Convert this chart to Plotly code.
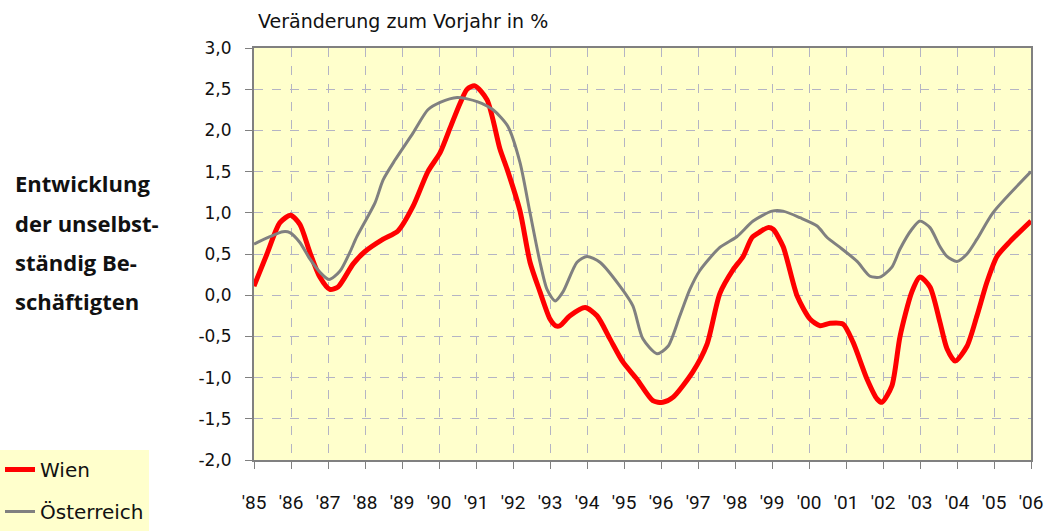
import plotly.graph_objects as go

# Wien (red) - year position, change vs previous year in %
wien_x = [1985.00, 1985.35, 1985.70, 1985.99, 1986.24, 1986.51, 1986.78, 1987.05, 1987.27,
          1987.68, 1988.00, 1988.49, 1988.89, 1989.30, 1989.70, 1990.03, 1990.30, 1990.57,
          1990.76, 1990.97, 1991.30, 1991.65, 1991.84, 1992.19, 1992.46, 1992.73, 1993.00,
          1993.15, 1993.27, 1993.54, 1993.95, 1994.27, 1994.62, 1994.97, 1995.35, 1995.78,
          1996.05, 1996.32, 1996.86, 1997.24, 1997.59, 1997.95, 1998.22, 1998.46, 1998.68,
          1998.89, 1999.03, 1999.30, 1999.68, 2000.03, 2000.30, 2000.57, 2000.92, 2001.19,
          2001.57, 2001.84, 2001.97, 2002.24, 2002.46, 2002.78, 2003.00, 2003.27, 2003.54,
          2003.73, 2003.95, 2004.27, 2004.54, 2004.81, 2005.08, 2005.43, 2006.00]
wien_y = [0.11, 0.50, 0.88, 0.97, 0.86, 0.52, 0.22, 0.07, 0.10,
          0.38, 0.53, 0.68, 0.78, 1.08, 1.50, 1.73, 2.03, 2.33,
          2.50, 2.54, 2.37, 1.77, 1.53, 1.02, 0.40, 0.04, -0.29,
          -0.37, -0.37, -0.25, -0.15, -0.25, -0.53, -0.81, -1.02, -1.28,
          -1.30, -1.24, -0.93, -0.60, 0.02, 0.31, 0.47, 0.70, 0.77,
          0.82, 0.80, 0.59, -0.01, -0.29, -0.37, -0.34, -0.35, -0.57,
          -1.02, -1.26, -1.30, -1.10, -0.50, 0.04, 0.22, 0.10, -0.33,
          -0.65, -0.80, -0.62, -0.25, 0.16, 0.47, 0.65, 0.90]

# Österreich (grey)
oe_x = [1985.00, 1985.43, 1985.78, 1985.97, 1986.24, 1986.51, 1986.78, 1987.03, 1987.32,
        1987.59, 1987.78, 1988.27, 1988.49, 1988.81, 1989.30, 1989.70, 1990.03, 1990.49,
        1991.03, 1991.46, 1991.86, 1992.19, 1992.46, 1992.73, 1992.92, 1993.14, 1993.35,
        1993.73, 1994.00, 1994.35, 1994.89, 1995.24, 1995.51, 1995.89, 1996.19, 1996.51,
        1996.78, 1997.05, 1997.59, 1998.05, 1998.49, 1999.00, 1999.30, 1999.76, 2000.22,
        2000.49, 2000.84, 2001.30, 2001.65, 2001.92, 2002.24, 2002.46, 2002.78, 2003.00,
        2003.27, 2003.54, 2003.73, 2004.00, 2004.27, 2004.54, 2004.97, 2006.00]
oe_y = [0.62, 0.71, 0.77, 0.76, 0.64, 0.44, 0.28, 0.19, 0.29,
        0.52, 0.71, 1.12, 1.40, 1.64, 1.97, 2.25, 2.34, 2.40,
        2.35, 2.25, 2.05, 1.61, 1.00, 0.40, 0.07, -0.07, 0.04,
        0.40, 0.47, 0.40, 0.11, -0.13, -0.53, -0.71, -0.62, -0.25,
        0.07, 0.30, 0.58, 0.71, 0.90, 1.02, 1.02, 0.94, 0.84,
        0.70, 0.58, 0.41, 0.23, 0.22, 0.34, 0.56, 0.80, 0.90,
        0.82, 0.59, 0.47, 0.41, 0.50, 0.68, 1.00, 1.50]

year_ticks = list(range(1985, 2007))
year_labels = ["'85", "'86", "'87", "'88", "'89", "'90", "'91", "'92", "'93", "'94", "'95",
               "'96", "'97", "'98", "'99", "'00", "'01", "'02", "'03", "'04", "'05", "'06"]
y_ticks = [3.0, 2.5, 2.0, 1.5, 1.0, 0.5, 0.0, -0.5, -1.0, -1.5, -2.0]
y_labels = ["3,0", "2,5", "2,0", "1,5", "1,0", "0,5", "0,0", "-0,5", "-1,0", "-1,5", "-2,0"]

title_text = "Veränderung zum Vorjahr in %"
side_lines = ["Entwicklung", "der unselbst-", "ständig Be-", "schäftigten"]

fig = go.Figure()
fig.add_trace(go.Scatter(x=wien_x, y=wien_y, mode="lines", name="Wien",
                         legendgroup="a",
                         line=dict(color="#FF0000", width=5, shape="spline", smoothing=0.7)))
fig.add_trace(go.Scatter(x=oe_x, y=oe_y, mode="lines", name="Österreich",
                         legendgroup="b",
                         line=dict(color="#808080", width=3, shape="spline", smoothing=0.7)))

L, R, T, B = 254, 18, 48, 71
W, H = 1049, 531
pw, ph = W - L - R, H - T - B

def px(xp):
    return (xp - L) / pw

def py(yp):
    return (H - B - yp) / ph

annotations = [dict(text=title_text, x=px(256), y=py(21), xref="paper", yref="paper",
                    xanchor="left", yanchor="middle", showarrow=False,
                    font=dict(family="DejaVu Sans", size=19, color="#111111"))]
for line, yp in zip(side_lines, [183, 223, 262, 301]):
    annotations.append(dict(text="<b>" + line + "</b>", x=px(13), y=py(yp), xref="paper", yref="paper",
                            xanchor="left", yanchor="middle", showarrow=False,
                            font=dict(family="Open Sans", size=22, color="#111111")))

fig.update_layout(
    width=W, height=H,
    margin=dict(l=L, r=R, t=T, b=B, autoexpand=False),
    paper_bgcolor="white",
    plot_bgcolor="#FFFFCC",
    showlegend=True,
    legend=dict(xref="container", yref="container", x=0, y=0, xanchor="left", yanchor="bottom",
                bgcolor="#FFFFCC", borderwidth=0, traceorder="grouped", tracegroupgap=13,
                font=dict(family="DejaVu Sans", size=20, color="#111111"),
                itemwidth=30, entrywidth=135, entrywidthmode="pixels"),
    annotations=annotations,
    xaxis=dict(range=[1985, 2006], tickmode="array", tickvals=year_ticks, ticktext=year_labels,
               showgrid=True, gridcolor="#B4B4C4", griddash="dash", gridwidth=1,
               showline=True, linecolor="#808080", linewidth=2, mirror=True,
               ticks="outside", ticklen=7, tickcolor="#808080", tickwidth=1,
               ticklabelstandoff=17,
               tickfont=dict(family="Roboto", size=19, color="#111111"),
               zeroline=False),
    yaxis=dict(range=[-2.0, 3.0], tickmode="array", tickvals=y_ticks, ticktext=y_labels,
               showgrid=True, gridcolor="#B4B4C4", griddash="dash", gridwidth=1,
               showline=True, linecolor="#808080", linewidth=2, mirror=True,
               ticks="outside", ticklen=7, tickcolor="#808080", tickwidth=1,
               ticklabelstandoff=10,
               tickfont=dict(family="DejaVu Sans", size=17, color="#111111"),
               zeroline=False),
)

fig.write_html("out.html", config={"displayModeBar": False},
               post_script="document.body.style.margin='0px';")
